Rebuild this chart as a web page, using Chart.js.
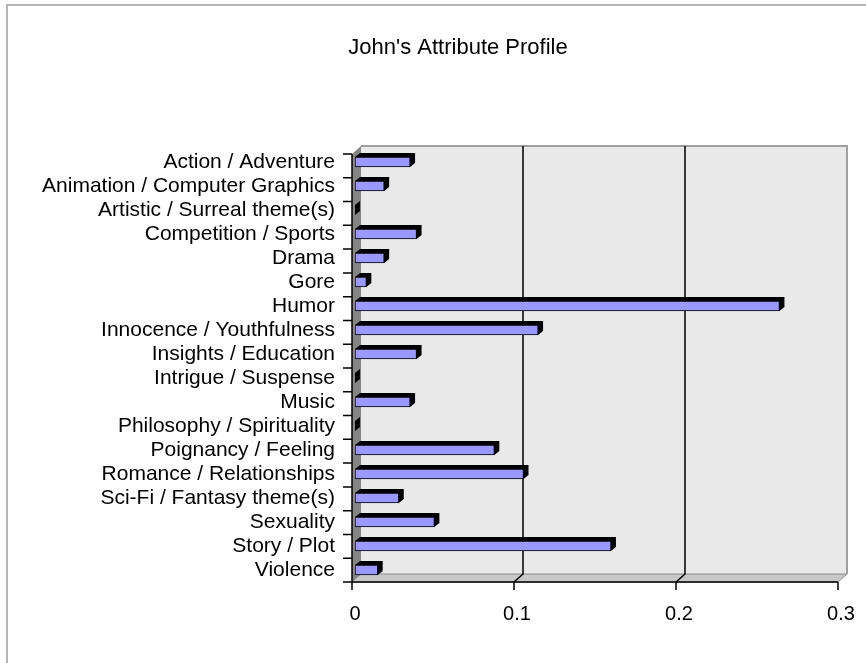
<!DOCTYPE html>
<html>
<head>
<meta charset="utf-8">
<title>John's Attribute Profile</title>
<script src="https://cdn.jsdelivr.net/npm/chart.js@4.4.0/dist/chart.umd.min.js"></script>
<style>
  html, body { margin: 0; padding: 0; background: #fff; }
  canvas { display: block; }
</style>
</head>
<body>
<canvas id="chart" width="866" height="663"></canvas>
<script>
const TITLE = "John's Attribute Profile";
const CATEGORIES = [
  'Action / Adventure', 'Animation / Computer Graphics', 'Artistic / Surreal theme(s)',
  'Competition / Sports', 'Drama', 'Gore', 'Humor', 'Innocence / Youthfulness',
  'Insights / Education', 'Intrigue / Suspense', 'Music', 'Philosophy / Spirituality',
  'Poignancy / Feeling', 'Romance / Relationships', 'Sci-Fi / Fantasy theme(s)',
  'Sexuality', 'Story / Plot', 'Violence'
];
const VALUES = [
  0.034, 0.018, 0, 0.038, 0.018, 0.007, 0.262, 0.113, 0.038,
  0, 0.034, 0, 0.086, 0.104, 0.027, 0.049, 0.158, 0.014
];
const X_TICKS = [0, 0.1, 0.2, 0.3];

const FONT = "'Liberation Sans', Arial, sans-serif";
const BAR_FACE = '#9999ff';

// fake excel 3d look: walls sit behind the bar plane, bars get a black top/side
const FRONT_DX = -3, WALL_DX = 9, WALL_DY = 8;
const DEPTH_X = 5, DEPTH_Y = 4;

const excel3d = {
  id: 'excel3d',
  beforeDraw(chart) {
    const ctx = chart.ctx;
    ctx.save();
    ctx.fillStyle = '#fff';
    ctx.fillRect(0, 0, chart.width, chart.height);
    ctx.strokeStyle = '#b4b4b4';
    ctx.lineWidth = 2;
    ctx.strokeRect(7, 5, chart.width + 20, chart.height + 20);
    // title sits off-centre in the original, so it is placed by hand
    ctx.fillStyle = '#000';
    ctx.font = '22px ' + FONT;
    ctx.textAlign = 'center';
    ctx.textBaseline = 'middle';
    ctx.fillText(TITLE, 458, 48);
    ctx.restore();
  },
  beforeDatasetsDraw(chart) {
    const ctx = chart.ctx, a = chart.chartArea;
    const xs = chart.scales.x;
    const fl = xs.getPixelForValue(X_TICKS[0]) + FRONT_DX;
    const fr = xs.getPixelForValue(X_TICKS[X_TICKS.length - 1]) + FRONT_DX;
    const ft = a.top + 4, fb = a.bottom;
    const bl = fl + WALL_DX, br = fr + WALL_DX, bt = ft - WALL_DY, bb = fb - WALL_DY;
    ctx.save();

    // back wall
    ctx.fillStyle = '#e9e9e9';
    ctx.fillRect(bl, bt, br - bl, bb - bt);
    ctx.strokeStyle = '#a0a0a0';
    ctx.lineWidth = 2;
    ctx.beginPath();
    ctx.moveTo(bl, bt); ctx.lineTo(br, bt); ctx.lineTo(br, bb);
    ctx.stroke();

    // left wall
    ctx.fillStyle = '#858585';
    ctx.beginPath();
    ctx.moveTo(fl, ft); ctx.lineTo(bl, bt); ctx.lineTo(bl, bb); ctx.lineTo(fl, fb);
    ctx.closePath(); ctx.fill();

    // floor
    ctx.fillStyle = '#c8c8c8';
    ctx.strokeStyle = '#8a8a8a';
    ctx.lineWidth = 1;
    ctx.beginPath();
    ctx.moveTo(fl, fb); ctx.lineTo(bl, bb); ctx.lineTo(br, bb); ctx.lineTo(fr, fb);
    ctx.closePath(); ctx.fill(); ctx.stroke();

    // gridlines on wall + floor
    ctx.strokeStyle = '#000';
    ctx.lineWidth = 1.5;
    X_TICKS.slice(1, -1).forEach(v => {
      const x = xs.getPixelForValue(v) + FRONT_DX;
      ctx.beginPath();
      ctx.moveTo(x + WALL_DX, bt); ctx.lineTo(x + WALL_DX, bb); ctx.lineTo(x, fb);
      ctx.stroke();
    });

    // front axes + tick marks
    ctx.lineWidth = 1.5;
    ctx.beginPath();
    ctx.moveTo(fl, ft); ctx.lineTo(fl, fb); ctx.lineTo(fr, fb);
    X_TICKS.forEach(v => {
      const x = xs.getPixelForValue(v) + FRONT_DX;
      ctx.moveTo(x, fb); ctx.lineTo(x, fb + 8);
    });
    const n = CATEGORIES.length;
    for (let i = 0; i <= n; i++) {
      const y = ft + (fb - ft) * i / n;
      ctx.moveTo(fl - 9, y); ctx.lineTo(fl, y);
    }
    ctx.stroke();

    // black depth of each bar
    ctx.fillStyle = '#000';
    chart.getDatasetMeta(0).data.forEach(bar => {
      const p = bar.getProps(['x', 'y', 'base', 'height'], true);
      const x0 = p.base, x1 = p.x, yt = p.y - p.height / 2, yb = p.y + p.height / 2;
      ctx.beginPath();
      ctx.moveTo(x0, yt);
      ctx.lineTo(x0 + DEPTH_X, yt - DEPTH_Y);
      ctx.lineTo(x1 + DEPTH_X, yt - DEPTH_Y);
      ctx.lineTo(x1 + DEPTH_X, yb - DEPTH_Y);
      ctx.lineTo(x1, yb);
      ctx.lineTo(x0, yb);
      ctx.closePath();
      ctx.fill();
    });
    ctx.restore();
  }
};

Chart.defaults.color = '#000';
Chart.defaults.font.family = FONT;

new Chart(document.getElementById('chart'), {
  type: 'bar',
  data: {
    labels: CATEGORIES,
    datasets: [{
      data: VALUES,
      backgroundColor: BAR_FACE,
      borderColor: '#000',
      borderWidth: 1,
      barThickness: 10,
      borderSkipped: false
    }]
  },
  options: {
    indexAxis: 'y',
    responsive: false,
    animation: false,
    devicePixelRatio: 1,
    layout: { padding: { left: 0, right: 25, top: 150, bottom: 0 } },
    plugins: {
      legend: { display: false },
      tooltip: { enabled: false },
      title: { display: false }
    },
    scales: {
      x: {
        min: 0, max: 0.3,
        afterBuildTicks: s => { s.ticks = X_TICKS.map(v => ({ value: v })); },
        ticks: {
          font: { size: 20 },
          padding: 20,
          maxRotation: 0,
          callback: v => v === 0 ? '0' : Number(v).toFixed(1)
        },
        grid: { display: false, drawTicks: false },
        border: { display: false },
        afterFit: s => { s.height = 81; s.paddingLeft = 0; s.paddingRight = 0; }
      },
      y: {
        ticks: { font: { size: 21 }, padding: 20, autoSkip: false },
        grid: { display: false, drawTicks: false },
        border: { display: false },
        afterFit: s => { s.width = 355; }
      }
    }
  },
  plugins: [excel3d]
});
</script>
</body>
</html>
